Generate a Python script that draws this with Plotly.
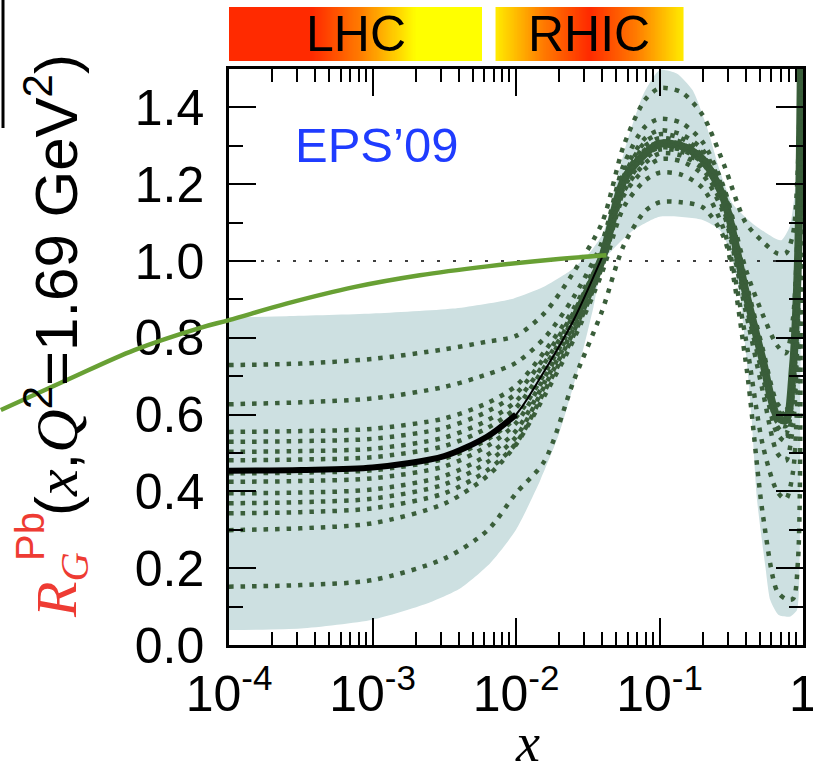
import numpy as np
import plotly.graph_objects as go

# ---------------- data ----------------
log_grid = [-4, -3.5, -3, -2.5, -2.2, -2.0, -1.8, -1.6, -1.4, -1.25, -1.1, -1.0,
            -0.85, -0.7, -0.55, -0.4, -0.28, -0.18, -0.12, -0.07, -0.035, -0.015, -0.004]

central = [0.454, 0.456, 0.462, 0.492, 0.543, 0.600, 0.715, 0.845, 1.01, 1.21, 1.28, 1.305,
           1.30, 1.265, 1.16, 0.92, 0.74, 0.595, 0.585, 0.724, 1.0, 1.5, 2.2]

set_01 = [0.729, 0.733, 0.745, 0.770, 0.790, 0.805, 0.865, 0.970, 1.10, 1.30, 1.42, 1.45,
          1.44, 1.38, 1.25, 1.10, 1.05, 1.02, 1.02, 1.07, 1.25, 1.7, 2.3]
set_02 = [0.627, 0.632, 0.642, 0.672, 0.705, 0.735, 0.800, 0.905, 1.05, 1.25, 1.35, 1.37,
          1.36, 1.31, 1.19, 0.98, 0.86, 0.78, 0.76, 0.85, 1.12, 1.7, 2.3]
set_03 = [0.555, 0.557, 0.563, 0.590, 0.630, 0.675, 0.765, 0.875, 1.03, 1.23, 1.32, 1.34,
          1.33, 1.29, 1.18, 0.95, 0.77, 0.63, 0.61, 0.73, 1.02, 1.6, 2.3]
set_04 = [0.529, 0.531, 0.537, 0.565, 0.608, 0.655, 0.750, 0.865, 1.02, 1.22, 1.31, 1.33,
          1.32, 1.28, 1.175, 0.94, 0.76, 0.62, 0.60, 0.73, 1.01, 1.55, 2.3]
set_05 = [0.503, 0.505, 0.511, 0.540, 0.585, 0.635, 0.735, 0.858, 1.015, 1.215, 1.30, 1.32,
          1.31, 1.275, 1.17, 0.935, 0.755, 0.61, 0.60, 0.72, 1.0, 1.5, 2.3]
set_06 = [0.481, 0.483, 0.489, 0.518, 0.565, 0.618, 0.725, 0.850, 1.01, 1.21, 1.29, 1.31,
          1.305, 1.27, 1.165, 0.93, 0.75, 0.60, 0.59, 0.72, 1.0, 1.5, 2.3]
set_07 = [0.447, 0.449, 0.455, 0.485, 0.535, 0.593, 0.708, 0.840, 1.005, 1.205, 1.28, 1.30,
          1.295, 1.26, 1.155, 0.915, 0.735, 0.59, 0.58, 0.71, 0.98, 1.5, 2.3]
set_08 = [0.425, 0.427, 0.434, 0.465, 0.518, 0.578, 0.698, 0.832, 1.0, 1.20, 1.275, 1.295,
          1.29, 1.255, 1.15, 0.91, 0.73, 0.58, 0.57, 0.70, 0.97, 1.5, 2.3]
set_09 = [0.395, 0.397, 0.405, 0.440, 0.495, 0.558, 0.685, 0.822, 0.995, 1.19, 1.265, 1.29,
          1.285, 1.25, 1.14, 0.90, 0.72, 0.57, 0.55, 0.66, 0.93, 1.45, 2.3]
set_10 = [0.369, 0.372, 0.381, 0.418, 0.476, 0.542, 0.675, 0.815, 0.99, 1.18, 1.255, 1.28,
          1.275, 1.24, 1.13, 0.89, 0.70, 0.55, 0.53, 0.63, 0.90, 1.4, 2.3]
set_11 = [0.343, 0.346, 0.356, 0.395, 0.455, 0.525, 0.662, 0.805, 0.985, 1.17, 1.24, 1.265,
          1.26, 1.225, 1.12, 0.87, 0.66, 0.50, 0.48, 0.57, 0.85, 1.4, 2.3]
set_12 = [0.299, 0.304, 0.317, 0.368, 0.440, 0.522, 0.650, 0.794, 0.97, 1.14, 1.21, 1.23,
          1.225, 1.19, 1.08, 0.80, 0.52, 0.40, 0.38, 0.45, 0.70, 1.3, 2.3]
set_13 = [0.152, 0.156, 0.169, 0.225, 0.298, 0.395, 0.480, 0.686, 0.87, 1.04, 1.13, 1.153,
          1.153, 1.14, 1.06, 0.74, 0.34, 0.14, 0.12, 0.12, 0.22, 0.9, 2.3]

band_upper_logx = [-4.0, -3.6, -3.0, -2.44, -2.02, -1.81, -1.62, -1.49, -1.39, -1.32, -1.23,
                   -1.11, -1.0, -0.88, -0.77, -0.67, -0.58, -0.49, -0.35, -0.21, -0.15,
                   -0.093, -0.058, -0.035, -0.023, -0.01, -0.004]
band_upper_y = [0.853, 0.856, 0.863, 0.876, 0.902, 0.932, 0.975, 1.02, 1.075, 1.176, 1.306,
                1.436, 1.497, 1.488, 1.445, 1.349, 1.236, 1.149, 1.097, 1.062, 1.054,
                1.089, 1.175, 1.349, 1.488, 1.55, 1.55]
band_lower_logx = [-0.004, -0.012, -0.019, -0.024, -0.042, -0.089, -0.17, -0.228, -0.262,
                   -0.32, -0.36, -0.40, -0.44, -0.51, -0.58, -0.70, -1.0, -1.2, -1.39,
                   -1.46, -1.555, -1.70, -1.83, -2.0, -2.18, -2.39, -2.62, -3.0, -3.5, -4.0]
band_lower_y = [1.55, 1.0, 0.55, 0.204, 0.091, 0.074, 0.078, 0.117, 0.204, 0.377, 0.60,
                0.77, 0.91, 1.028, 1.081, 1.107, 1.115, 1.075, 1.0, 0.88, 0.735, 0.55,
                0.43, 0.30, 0.213, 0.147, 0.108, 0.066, 0.043, 0.039]

green_logx = [-5.59, -5.13, -4.66, -4.2, -4.0, -3.6, -3.13, -2.67, -2.2, -1.74, -1.37]
green_y = [0.612, 0.690, 0.768, 0.826, 0.846, 0.889, 0.932, 0.963, 0.986, 1.004, 1.015]

lhc_range = [1e-4, 5.8e-3]
rhic_range = [7.2e-3, 0.146]

y_tickvals = [0.0, 0.2, 0.4, 0.6, 0.8, 1.0, 1.2, 1.4]
y_ticktext = ["0.0", "0.2", "0.4", "0.6", "0.8", "1.0", "1.2", "1.4"]
x_tickvals = [1e-4, 1e-3, 1e-2, 1e-1, 1]
x_ticktext = ["10<sup>-4</sup>", "10<sup>-3</sup>", "10<sup>-2</sup>", "10<sup>-1</sup>", "1"]

# ---------------- geometry / style ----------------
W, H = 813, 765
ML, MR, MT, MB = 0, 10, 7, 120
PW, PH = W - ML - MR, H - MT - MB
AX_L, AX_R, AX_T, AX_B = 229, 803, 69, 645
BAR_T, BAR_B = 7, 61

def px2x(px):
    return (px - ML) / PW

def py2y(py):
    return (H - MB - py) / PH

x_dom = [px2x(AX_L), px2x(AX_R)]
y_dom = [0, py2y(AX_T)]
bar_dom = [py2y(BAR_B), py2y(BAR_T)]
dec_px = (AX_R - AX_L) / 4.0
x3_range = [-4 - (AX_L - ML) / dec_px, 0]

FONT = "Liberation Sans, Arial, Helvetica, sans-serif"
SERIF = "Liberation Serif, Times New Roman, serif"
BAND = "#cde0e1"
DKGREEN = "#3a5e3a"
LTGREEN = "#68a034"
RED = "#ee3b33"
BLUE = "#1f3cff"

xg = [10 ** v for v in log_grid]

fig = go.Figure()

bx = [10 ** v for v in band_upper_logx] + [10 ** v for v in band_lower_logx]
by = band_upper_y + band_lower_y
fig.add_trace(go.Scatter(x=bx, y=by, mode="lines", fill="toself", fillcolor=BAND,
                         line=dict(width=0, color=BAND, shape="spline", smoothing=0.6),
                         hoverinfo="skip", showlegend=False))

fig.add_trace(go.Scatter(x=[1e-4, 1], y=[1, 1], mode="lines",
                         line=dict(color="black", width=1.5, dash="3px,13px"),
                         showlegend=False, hoverinfo="skip"))

fig.add_trace(go.Scatter(x=xg[7:], y=central[7:], mode="lines",
                         line=dict(color=DKGREEN, width=8, shape="spline", smoothing=0.8),
                         showlegend=False))

for s in [set_01, set_02, set_03, set_04, set_05, set_06, set_07, set_08, set_09,
          set_10, set_11, set_12, set_13]:
    fig.add_trace(go.Scatter(x=xg, y=s, mode="lines",
                             line=dict(color=DKGREEN, width=4.5, dash="4.5px,7px",
                                       shape="spline", smoothing=0.8),
                             showlegend=False))

fig.add_trace(go.Scatter(x=xg[:6], y=central[:6], mode="lines",
                         line=dict(color="black", width=6, shape="spline", smoothing=0.8),
                         showlegend=False))
fig.add_trace(go.Scatter(x=xg[4:9], y=central[4:9], mode="lines",
                         line=dict(color="black", width=2, shape="spline", smoothing=0.8),
                         showlegend=False))

fig.add_trace(go.Scatter(x=[10 ** v for v in green_logx], y=green_y, mode="lines",
                         xaxis="x3", yaxis="y",
                         line=dict(color=LTGREEN, width=4.5, shape="spline"),
                         showlegend=False))

def bar_trace(rng, stop_pos, stop_val):
    lo, hi = np.log10(rng[0]), np.log10(rng[1])
    n = 240
    edges = np.linspace(lo, hi, n + 1)
    centers = (np.arange(n) + 0.5) / n
    z = np.interp(centers, stop_pos, stop_val)
    return go.Heatmap(x=edges, y=[0, 1], z=[z.tolist()], xaxis="x2", yaxis="y2",
                      zmin=0, zmax=1, showscale=False, hoverinfo="skip",
                      colorscale=[[0, "#ff2a00"], [0.45, "#ff7a00"], [1, "#ffff00"]])

fig.add_trace(bar_trace(lhc_range, [0, 0.33, 0.74, 1], [0, 0, 1, 1]))
fig.add_trace(bar_trace(rhic_range, [0, 0.5, 1], [0.92, 0, 0.92]))

axis_common = dict(showline=True, linecolor="black", linewidth=2.5, mirror="ticks",
                   ticks="inside", tickcolor="black", tickwidth=2, ticklen=27,
                   showgrid=False, zeroline=False, automargin=False,
                   tickfont=dict(family=FONT, size=50, color="black"))

minor_x = [k * 10 ** d for d in range(-4, 0) for k in range(2, 10)]

fig.update_layout(
    width=W, height=H,
    margin=dict(l=ML, r=MR, t=MT, b=MB, pad=0, autoexpand=False),
    paper_bgcolor="white", plot_bgcolor="rgba(0,0,0,0)",
    font=dict(family=FONT, color="black"),
    showlegend=False,
    xaxis=dict(type="log", range=[-4, 0], domain=x_dom, anchor="y",
               tickmode="array", tickvals=x_tickvals, ticktext=x_ticktext,
               ticklabelstandoff=3, ticklabeloverflow="allow",
               minor=dict(tickmode="array", tickvals=minor_x, ticks="inside",
                          ticklen=13, tickwidth=1.5, tickcolor="black"),
               **axis_common),
    yaxis=dict(range=[0, 1.5], domain=y_dom, anchor="x",
               tickmode="array", tickvals=y_tickvals, ticktext=y_ticktext,
               ticklabelstandoff=12, ticklabeloverflow="allow",
               minor=dict(dtick=0.1, ticks="inside", ticklen=14, tickwidth=1.5,
                          tickcolor="black"),
               **axis_common),
    xaxis2=dict(range=[-4, 0], domain=x_dom, anchor="y2", visible=False, automargin=False),
    yaxis2=dict(range=[0, 1], domain=bar_dom, anchor="x2", visible=False, automargin=False),
    xaxis3=dict(type="log", range=x3_range, domain=[0, 1], anchor="y", visible=False,
                automargin=False),
)

ann = []
ann.append(dict(x=np.mean(np.log10(lhc_range)), y=0.5, xref="x2", yref="y2",
                xanchor="center", yanchor="middle",
                text="LHC", showarrow=False,
                font=dict(family=FONT, size=50, color="black")))
ann.append(dict(x=np.mean(np.log10(rhic_range)), y=0.5, xref="x2", yref="y2",
                xanchor="center", yanchor="middle",
                text="RHIC", showarrow=False,
                font=dict(family=FONT, size=50, color="black")))
ann.append(dict(x=px2x(376), y=py2y(145), xref="paper", yref="paper",
                xanchor="center", yanchor="middle",
                text="EPS’09", showarrow=False,
                font=dict(family=FONT, size=49, color=BLUE)))
ann.append(dict(x=px2x(527), y=py2y(743), xref="paper", yref="paper",
                xanchor="center", yanchor="middle",
                text="<i>x</i>", showarrow=False,
                font=dict(family=SERIF, size=54, color="black")))
ann.append(dict(x=px2x(60), y=py2y(620), xref="paper", yref="paper",
                xanchor="center", yanchor="bottom", textangle=-90,
                text="<i>R</i><sub><i>G</i></sub>", showarrow=False,
                font=dict(family=SERIF, size=58, color=RED)))
ann.append(dict(x=px2x(30), y=py2y(536), xref="paper", yref="paper",
                xanchor="center", yanchor="middle", textangle=-90,
                text="Pb", showarrow=False,
                font=dict(family=FONT, size=40, color=RED)))
ann.append(dict(x=px2x(52), y=py2y(518), xref="paper", yref="paper",
                xanchor="center", yanchor="bottom", textangle=-90,
                text="(<span style=\"font-family:Liberation Serif\"><i>x</i></span>,"
                     "<span style=\"font-family:Liberation Serif\"><i>Q</i></span>"
                     "<sup>2</sup>=1.69 GeV<sup>2</sup>)",
                showarrow=False,
                font=dict(family=FONT, size=60, color="black")))
fig.update_layout(annotations=ann)

fig.add_shape(type="line", xref="paper", yref="paper",
              x0=px2x(3), x1=px2x(3), y0=py2y(0), y1=py2y(128),
              line=dict(color="black", width=3))

fig.write_html("out.html", config={"displayModeBar": False},
               post_script="document.body.style.margin='0';"
                           "document.body.style.overflow='hidden';")
